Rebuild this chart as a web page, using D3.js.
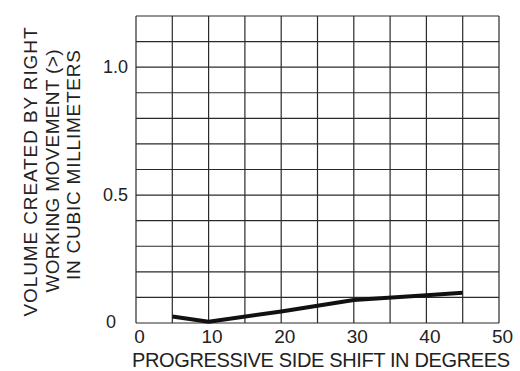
<!DOCTYPE html>
<html>
<head>
<meta charset="utf-8">
<script src="https://cdn.jsdelivr.net/npm/d3@7"></script>
<style>
  body { margin: 0; background: #fff; }
  svg text { font-family: "Liberation Sans", Arial, sans-serif; fill: #222; }
</style>
</head>
<body>
<script>
// data
const shiftDeg = [5, 10, 20, 30, 40, 45]
const volume = [0.025, 0.005, 0.045, 0.09, 0.108, 0.118]
const xTicks = [0, 10, 20, 30, 40, 50]
const yTicks = [0.5, 1.0]
const yTickLabels = ['0.5', '1.0']
const yTitle = ['VOLUME  CREATED BY RIGHT', 'WORKING MOVEMENT (>)', 'IN CUBIC MILLIMETERS']
const yTitleLen = [289, 243, 230]
const yTitleMid = [172, 171, 165]
const xTitle = 'PROGRESSIVE SIDE SHIFT IN DEGREES'

const width = 520
const height = 371
const margin = { top: 16, right: 21, bottom: 48, left: 136 }

const svg = d3.select('body').append('svg').attr('width', width).attr('height', height)

const x = d3.scaleLinear().domain([0, 50]).range([margin.left, width - margin.right])
const y = d3.scaleLinear().domain([0, 1.2]).range([height - margin.bottom, margin.top])

// grid
const grid = svg.append('g').attr('stroke', '#2a2a2a').attr('stroke-width', 1.2)
grid.selectAll('line.v')
  .data(d3.range(0, 50.01, 5))
  .enter().append('line')
  .attr('x1', d => x(d)).attr('x2', d => x(d))
  .attr('y1', y(0)).attr('y2', y(1.2))
grid.selectAll('line.h')
  .data(d3.range(0, 12.01, 1).map(d => d / 10))
  .enter().append('line')
  .attr('x1', x(0)).attr('x2', x(50))
  .attr('y1', d => y(d)).attr('y2', d => y(d))

// x axis (labels sit a touch right of their grid lines in the reference)
const xAxis = svg.append('g')
  .attr('transform', `translate(3,${y(0)})`)
  .call(d3.axisBottom(x).tickValues(xTicks).tickSize(0).tickPadding(7))
xAxis.select('.domain').remove()
xAxis.selectAll('text').attr('font-size', 19).attr('fill', '#222')

// y axis
const yAxis = svg.append('g')
  .attr('transform', `translate(${x(0)},0)`)
  .call(d3.axisLeft(y).tickValues(yTicks).tickFormat((d, i) => yTickLabels[i]).tickSize(0).tickPadding(8))
yAxis.select('.domain').remove()
yAxis.selectAll('text').attr('font-size', 18).attr('fill', '#222')

// the zero on the value axis sits a little further out
svg.append('text')
  .attr('x', x(0) - 20)
  .attr('y', y(0) + 5)
  .attr('text-anchor', 'end')
  .attr('font-size', 18)
  .text('0')

// titles
svg.append('text')
  .attr('x', 132)
  .attr('y', 367)
  .attr('font-size', 20)
  .attr('textLength', 378)
  .attr('lengthAdjust', 'spacing')
  .text(xTitle)

svg.selectAll('text.ytitle')
  .data(yTitle)
  .enter().append('text')
  .attr('class', 'ytitle')
  .attr('transform', (d, i) => `translate(${37 + i * 21.5},${yTitleMid[i] + yTitleLen[i] / 2}) rotate(-90)`)
  .attr('font-size', 19)
  .attr('textLength', (d, i) => yTitleLen[i])
  .attr('lengthAdjust', 'spacing')
  .text(d => d)

// curve
const line = d3.line().x(d => x(d[0])).y(d => y(d[1]))
svg.append('path')
  .datum(d3.zip(shiftDeg, volume))
  .attr('fill', 'none')
  .attr('stroke', '#111')
  .attr('stroke-width', 4)
  .attr('stroke-linejoin', 'round')
  .attr('d', line)
</script>
</body>
</html>
